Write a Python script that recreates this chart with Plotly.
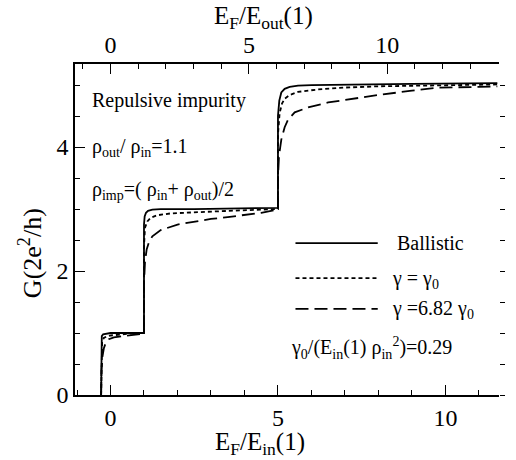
import plotly.graph_objects as go

# ---- data ----
ballistic_x = [-0.28, -0.28, -0.26, -0.22, -0.15, 0.0, 0.5, 1.0, 1.0, 1.02, 1.06, 1.12, 1.25, 1.5, 2.5, 4.0, 5.0,
               5.0, 5.04, 5.1, 5.2, 5.35, 5.6, 6.0, 7.0, 9.0, 11.55]
ballistic_g = [0.0, 0.85, 0.95, 0.98, 0.99, 1.0, 1.0, 1.0, 2.75, 2.88, 2.94, 2.97, 2.99, 3.0, 3.0, 3.01, 3.02,
               4.5, 4.75, 4.88, 4.94, 4.97, 4.99, 5.0, 5.01, 5.02, 5.03]

gamma0_x = [-0.28, -0.27, -0.25, -0.2, -0.1, 0.0, 0.3, 0.6, 1.0, 1.0, 1.03, 1.1, 1.2, 1.4, 1.8, 2.5, 3.5, 4.5, 5.0,
            5.0, 5.05, 5.12, 5.2, 5.35, 5.6, 6.2, 7.0, 8.0, 10.0, 11.55]
gamma0_g = [0.0, 0.7, 0.85, 0.92, 0.95, 0.96, 0.98, 0.99, 1.0, 2.4, 2.7, 2.8, 2.86, 2.9, 2.93, 2.95, 2.97, 2.99, 3.0,
            4.2, 4.55, 4.7, 4.78, 4.84, 4.89, 4.93, 4.96, 4.98, 5.0, 5.01]

gamma682_x = [-0.28, -0.27, -0.24, -0.2, -0.15, -0.05, 0.1, 0.4, 0.7, 1.0, 1.0, 1.03, 1.08, 1.15, 1.25, 1.5, 2.0,
              2.5, 3.0, 3.5, 4.0, 4.5, 5.0, 5.0, 5.03, 5.1, 5.2, 5.3, 5.5, 5.9, 6.5, 7.1, 8.0, 9.0, 9.8, 11.0, 11.55]
gamma682_g = [0.0, 0.4, 0.62, 0.75, 0.83, 0.9, 0.93, 0.95, 0.97, 0.99, 1.8, 2.15, 2.35, 2.47, 2.56, 2.66, 2.75,
              2.8, 2.84, 2.87, 2.9, 2.94, 2.99, 3.5, 3.85, 4.12, 4.32, 4.44, 4.56, 4.64, 4.72, 4.77, 4.84, 4.91,
              4.96, 4.97, 4.98]

x_range = [-1.06, 11.6]
energy_ratio = 1.21  # E_in(1)/E_out(1) = (rho_out/rho_in)^2
y_range = [0, 5.34]
x_ticks = [0, 5, 10]
y_ticks = [0, 2, 4]

FONT = "Liberation Serif"

fig = go.Figure()
fig.add_trace(go.Scatter(x=ballistic_x, y=ballistic_g, mode="lines",
                         line=dict(color="black", width=1.8), showlegend=False))
fig.add_trace(go.Scatter(x=gamma0_x, y=gamma0_g, mode="lines",
                         line=dict(color="black", width=1.8, dash="4px,3px"), showlegend=False))
fig.add_trace(go.Scatter(x=gamma682_x, y=gamma682_g, mode="lines",
                         line=dict(color="black", width=1.8, dash="13px,6px"), showlegend=False))
# empty traces to activate the top and right axes
fig.add_trace(go.Scatter(x=[None], y=[None], xaxis="x2", yaxis="y", showlegend=False, hoverinfo="skip"))
fig.add_trace(go.Scatter(x=[None], y=[None], xaxis="x", yaxis="y2", showlegend=False, hoverinfo="skip"))

axis_common = dict(showgrid=False, zeroline=False, showline=True, linecolor="black", linewidth=1.6,
                   ticks="inside", ticklen=10, tickwidth=1.4, tickcolor="black",
                   tickfont=dict(family=FONT, size=24, color="black"))

fig.update_layout(
    width=516, height=460,
    margin=dict(l=75, r=14, t=64, b=65),
    paper_bgcolor="white", plot_bgcolor="white",
    font=dict(family=FONT, color="black"),
    xaxis=dict(range=x_range, tickvals=x_ticks, **axis_common,
               minor=dict(dtick=1, tick0=0, ticklen=5, tickwidth=1.3, tickcolor="black", ticks="inside")),
    xaxis2=dict(range=[x_range[0] * energy_ratio, x_range[1] * energy_ratio], overlaying="x", side="top",
                tickvals=x_ticks, **axis_common,
                minor=dict(dtick=1, tick0=0, ticklen=5, tickwidth=1.3, tickcolor="black", ticks="inside")),
    yaxis=dict(range=y_range, tickvals=y_ticks, **axis_common,
               minor=dict(dtick=0.5, tick0=0, ticklen=5, tickwidth=1.3, tickcolor="black", ticks="inside")),
    yaxis2=dict(range=y_range, overlaying="y", side="right", showline=False, showgrid=False, zeroline=False,
                ticks="outside", ticklen=5, tickwidth=1.3, tickcolor="black", dtick=0.5, showticklabels=False),
    showlegend=False,
)

ann_font = dict(family=FONT, size=20, color="black")
annotations = [
    dict(text="E<sub>F</sub>/E<sub>in</sub>(1)", x=0.437, y=-0.147, xanchor="center", yanchor="middle",
         font=dict(family=FONT, size=25, color="black")),
    dict(text="E<sub>F</sub>/E<sub>out</sub>(1)", x=0.445, y=1.14, xanchor="center", yanchor="middle",
         font=dict(family=FONT, size=25, color="black")),
    dict(text="G(2e<sup>2</sup>/h)", x=-0.105, y=0.43, xanchor="center", yanchor="middle", textangle=-90,
         font=dict(family=FONT, size=26, color="black")),
    dict(text="Repulsive impurity", x=0.036, y=0.891, xanchor="left", yanchor="middle", font=ann_font),
    dict(text="ρ<sub>out</sub>/ ρ<sub>in</sub>=1.1", x=0.036, y=0.749, xanchor="left", yanchor="middle",
         font=ann_font),
    dict(text="ρ<sub>imp</sub>=( ρ<sub>in</sub>+ ρ<sub>out</sub>)/2", x=0.036, y=0.619, xanchor="left",
         yanchor="middle", font=ann_font),
    dict(text="Ballistic", x=0.754, y=0.459, xanchor="left", yanchor="middle", font=ann_font),
    dict(text="γ = γ<sub>0</sub>", x=0.742, y=0.348, xanchor="left", yanchor="middle", font=ann_font),
    dict(text="γ =6.82 γ<sub>0</sub>", x=0.742, y=0.257, xanchor="left", yanchor="middle", font=ann_font),
    dict(text="γ<sub>0</sub>/(E<sub>in</sub>(1) ρ<sub>in</sub><sup>2</sup>)=0.29", x=0.505, y=0.142,
         xanchor="left", yanchor="middle", font=ann_font),
]
for a in annotations:
    a.update(xref="paper", yref="paper", showarrow=False)
fig.update_layout(annotations=annotations)

# legend sample lines
legend_styles = [("solid", 0.459), ("4px,3px", 0.353), ("13px,6px", 0.26)]
for dash, yy in legend_styles:
    fig.add_shape(type="line", xref="paper", yref="paper", x0=0.52, x1=0.714, y0=yy, y1=yy,
                  line=dict(color="black", width=1.8, dash=dash))

fig.write_html("out.html")
